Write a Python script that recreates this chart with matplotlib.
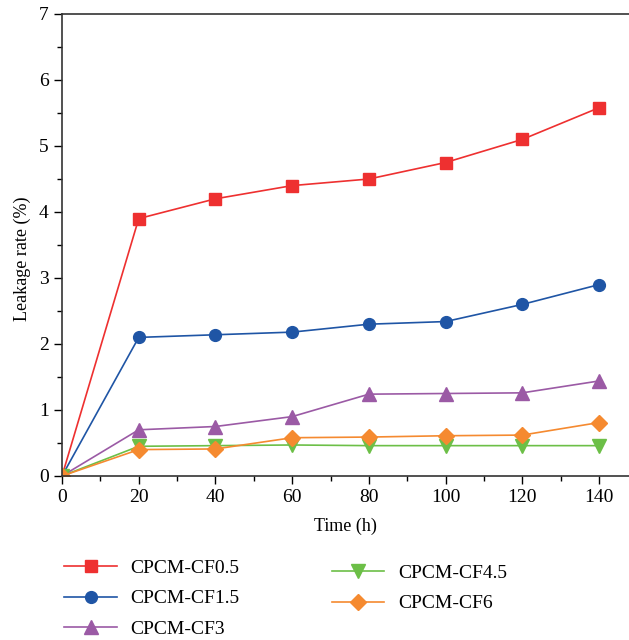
import numpy as np
import matplotlib.pyplot as plt
from matplotlib.ticker import MultipleLocator

plt.rcParams['font.family'] = ['Liberation Serif', 'DejaVu Serif']

time_h = [0, 20, 40, 60, 80, 100, 120, 140]
cf05 = [0, 3.9, 4.2, 4.4, 4.5, 4.75, 5.1, 5.58]
cf15 = [0, 2.1, 2.14, 2.18, 2.3, 2.34, 2.6, 2.9]
cf3 = [0, 0.7, 0.75, 0.9, 1.24, 1.25, 1.26, 1.44]
cf45 = [0, 0.45, 0.46, 0.47, 0.46, 0.46, 0.46, 0.46]
cf6 = [0, 0.4, 0.41, 0.58, 0.59, 0.61, 0.62, 0.81]

fig = plt.figure(figsize=(6.29, 6.40), dpi=100)
ax = fig.add_axes([62 / 629, 164 / 640, 1 - 62 / 629, 462 / 640])

l1, = ax.plot(time_h, cf05, color="#ee3030", marker="s", ms=8, lw=1.2, label="CPCM-CF0.5")
l2, = ax.plot(time_h, cf15, color="#1f55a5", marker="o", ms=8.5, lw=1.2, label="CPCM-CF1.5")
l3, = ax.plot(time_h, cf3, color="#9b5aa5", marker="^", ms=9.5, lw=1.2, label="CPCM-CF3")
l4, = ax.plot(time_h, cf45, color="#6cbf47", marker="v", ms=9.5, lw=1.2, label="CPCM-CF4.5")
l5, = ax.plot(time_h, cf6, color="#f58a30", marker="D", ms=8, lw=1.2, label="CPCM-CF6")

ax.set_xlim(0, 147.8)
ax.set_ylim(0, 7)
ax.set_xticks(np.arange(0, 141, 20))
ax.xaxis.set_minor_locator(MultipleLocator(10))
ax.yaxis.set_minor_locator(MultipleLocator(0.5))
ax.tick_params(which="major", direction="out", length=6, width=1, labelsize=14)
ax.tick_params(which="minor", direction="out", length=3.5, width=1)
ax.spines["right"].set_visible(False)
for s in ["left", "bottom", "top"]:
    ax.spines[s].set_linewidth(1.2)
    ax.spines[s].set_color("#333333")
ax.set_xlabel("Time (h)", fontsize=13, labelpad=8)
ax.set_ylabel("Leakage rate (%)", fontsize=13)
ax.yaxis.set_label_coords(-0.055, 0.47)

leg1 = fig.legend(handles=[l1, l2, l3], loc="upper left", bbox_to_anchor=(0.09, 0.138),
                  frameon=False, fontsize=14, handlelength=2.7, handletextpad=0.7,
                  labelspacing=0.65, borderaxespad=0)
leg2 = fig.legend(handles=[l4, l5], loc="upper left", bbox_to_anchor=(0.515, 0.13),
                  frameon=False, fontsize=14, handlelength=2.7, handletextpad=0.7,
                  labelspacing=0.65, borderaxespad=0)

fig.savefig("out.png", dpi=100)
